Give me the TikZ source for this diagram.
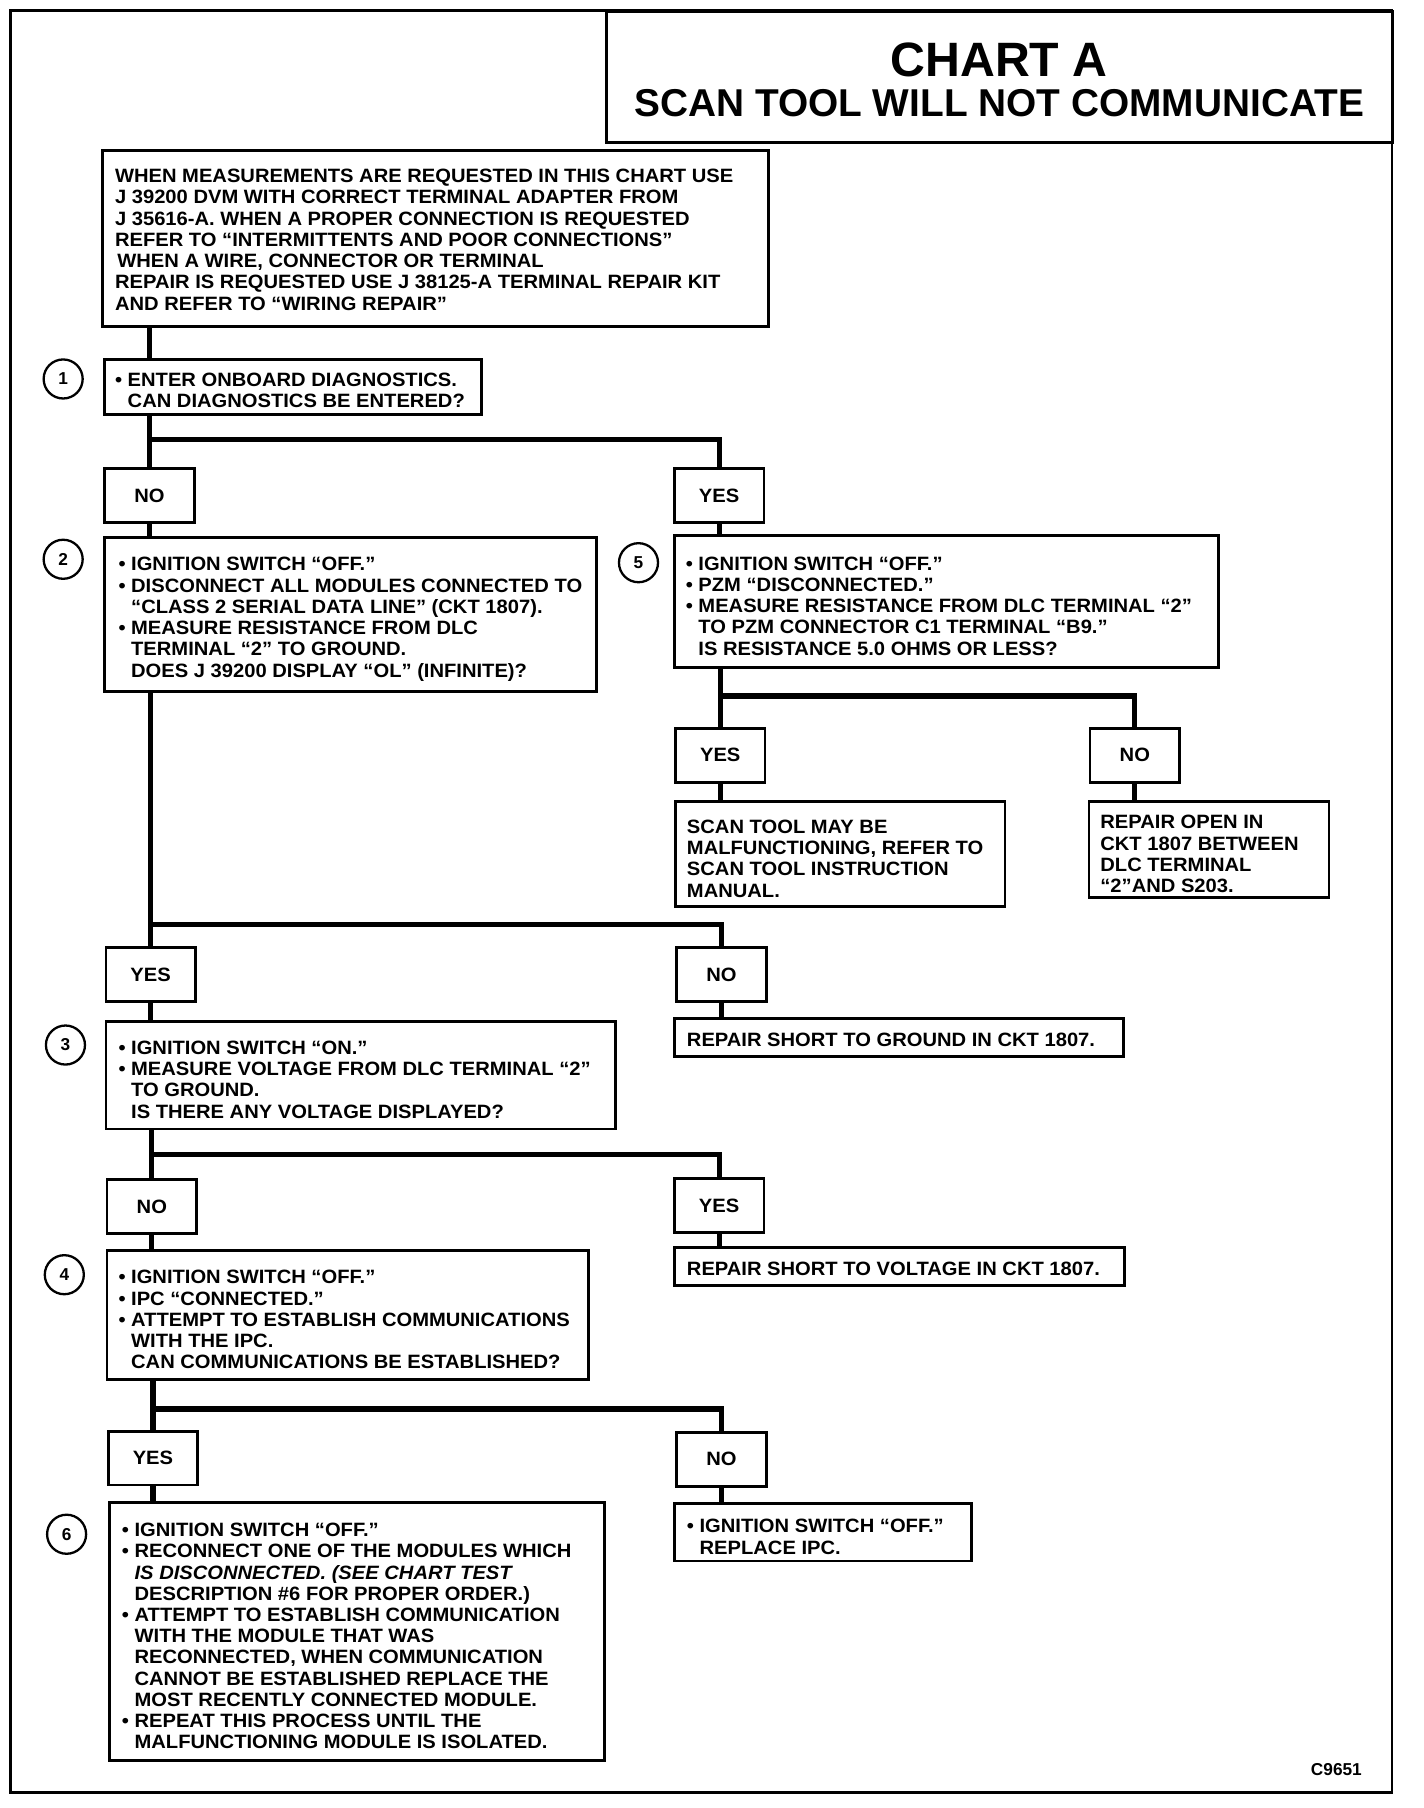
\documentclass[tikz,border=0pt]{standalone}
\usepackage{fontspec}
\setmainfont{Liberation Sans}
\newfontfamily\bodyfam{Liberation Sans}[FakeStretch=1.045]
\newcommand\bodyfont{\bodyfam\fontsize{16.8}{18.5}\selectfont\bfseries}
\newcommand\numfont{\fontsize{15}{15}\selectfont\bfseries}
\newcommand\bl{\textbullet\ }
\newcommand\ind{\hphantom{\textbullet\ }}
\begin{document}
\begin{tikzpicture}[x=1pt,y=-1pt,
  stepbox/.style={draw, line width=2.4pt, anchor=north west, inner sep=0pt},
  ansbox/.style={draw, line width=2.4pt, anchor=north west, inner sep=0pt,
     minimum width=78pt, minimum height=47pt, font=\bodyfont},
  txt/.style={anchor=west, align=left, inner sep=0pt, font=\bodyfont, yshift=-4pt},
  numc/.style={draw, circle, line width=2pt, minimum size=34pt, inner sep=0pt, font=\numfont},
  conn/.style={line width=4.5pt},
]
\useasboundingbox (0,0) rectangle (1240,1574.4);
% frame and title
\draw[line width=2.2pt] (9,9) rectangle (1212,1561);
\node[stepbox, line width=2.2pt, minimum width=685pt, minimum height=114pt] (title) at (527,9) {};
\node[font=\fontsize{42}{42}\selectfont\bfseries, inner sep=0pt] (tA) at (870,52) {CHART A};
\node[font=\fontsize{33.8}{34}\selectfont\bfseries, inner sep=0pt] (tB) at (870,90) {SCAN TOOL WILL NOT COMMUNICATE};

% intro
\node[stepbox, minimum width=580pt, minimum height=153pt] (intro) at (88,130) {};
\node[txt, yshift=3pt] (introtxt) at ([xshift=12pt]intro.west) {WHEN MEASUREMENTS ARE REQUESTED IN THIS CHART USE\\
J 39200 DVM WITH CORRECT TERMINAL ADAPTER FROM\\
J 35616-A. WHEN A PROPER CONNECTION IS REQUESTED\\
REFER TO “INTERMITTENTS AND POOR CONNECTIONS”\\
\hspace{2pt}WHEN A WIRE, CONNECTOR OR TERMINAL\\
REPAIR IS REQUESTED USE J 38125-A TERMINAL REPAIR KIT\\
AND REFER TO “WIRING REPAIR”};

% step 1
\node[numc] (c1) at (55,330) {1};
\node[stepbox, minimum width=328pt, minimum height=48pt] (b1) at (90,312) {};
\node[txt, yshift=1pt] (t1) at ([xshift=10pt]b1.west) {\bl ENTER ONBOARD DIAGNOSTICS.\\ \ind CAN DIAGNOSTICS BE ENTERED?};
\node[ansbox] (no1) at (90,407) {NO};
\node[ansbox] (yes1) at (586,407) {YES};

% step 2
\node[numc] (c2) at (55,487) {2};
\node[stepbox, minimum width=428pt, minimum height=134pt] (b2) at (90,467) {};
\node[txt] (t2) at ([xshift=13pt]b2.west) {\bl IGNITION SWITCH “OFF.”\\
\bl DISCONNECT ALL MODULES CONNECTED TO\\
\ind “CLASS 2 SERIAL DATA LINE” (CKT 1807).\\
\bl MEASURE RESISTANCE FROM DLC\\
\ind TERMINAL “2” TO GROUND.\\
\ind DOES J 39200 DISPLAY “OL” (INFINITE)?};

% step 5
\node[numc] (c5) at (556,490) {5};
\node[stepbox, minimum width=474pt, minimum height=115pt] (b5) at (586,465) {};
\node[txt] (t5) at ([xshift=11pt]b5.west) {\bl IGNITION SWITCH “OFF.”\\
\bl PZM “DISCONNECTED.”\\
\bl MEASURE RESISTANCE FROM DLC TERMINAL “2”\\
\ind TO PZM CONNECTOR C1 TERMINAL “B9.”\\
\ind IS RESISTANCE 5.0 OHMS OR LESS?};
\node[ansbox] (yes5) at (587,633) {YES};
\node[ansbox] (no5) at (948,633) {NO};
\node[stepbox, minimum width=287pt, minimum height=91pt] (scan) at (587,697) {};
\node[txt] (tscan) at ([xshift=11pt]scan.west) {SCAN TOOL MAY BE\\ MALFUNCTIONING, REFER TO\\ SCAN TOOL INSTRUCTION\\ MANUAL.};
\node[stepbox, minimum width=209pt, minimum height=83pt] (ropen) at (947,697) {};
\node[txt] (tropen) at ([xshift=11pt]ropen.west) {REPAIR OPEN IN\\ CKT 1807 BETWEEN\\ DLC TERMINAL\\ “2”AND S203.};

% answers of step 2
\node[ansbox] (yes2) at (91,824) {YES};
\node[ansbox] (no2) at (588,824) {NO};
\node[stepbox, minimum width=391pt, minimum height=33pt] (rgnd) at (586,886) {};
\node[txt, yshift=2pt] (trgnd) at ([xshift=12pt]rgnd.west) {REPAIR SHORT TO GROUND IN CKT 1807.};

% step 3
\node[numc] (c3) at (57,910) {3};
\node[stepbox, minimum width=444pt, minimum height=94pt] (b3) at (91,888) {};
\node[txt] (t3) at ([xshift=12pt]b3.west) {\bl IGNITION SWITCH “ON.”\\
\bl MEASURE VOLTAGE FROM DLC TERMINAL “2”\\
\ind TO GROUND.\\
\ind IS THERE ANY VOLTAGE DISPLAYED?};
\node[ansbox] (no3) at (92,1026) {NO};
\node[ansbox] (yes3) at (586,1025) {YES};
\node[stepbox, minimum width=392pt, minimum height=33pt] (rvolt) at (586,1085) {};
\node[txt, yshift=2pt] (trvolt) at ([xshift=12pt]rvolt.west) {REPAIR SHORT TO VOLTAGE IN CKT 1807.};

% step 4
\node[numc] (c4) at (56,1110) {4};
\node[stepbox, minimum width=419pt, minimum height=112pt] (b4) at (92,1088) {};
\node[txt] (t4) at ([xshift=11pt]b4.west) {\bl IGNITION SWITCH “OFF.”\\
\bl IPC “CONNECTED.”\\
\bl ATTEMPT TO ESTABLISH COMMUNICATIONS\\
\ind WITH THE IPC.\\
\ind CAN COMMUNICATIONS BE ESTABLISHED?};
\node[ansbox] (yes4) at (93,1245) {YES};
\node[ansbox] (no4) at (588,1246) {NO};
\node[stepbox, minimum width=259pt, minimum height=50pt] (ripc) at (586,1308) {};
\node[txt] (tripc) at ([xshift=12pt]ripc.west) {\bl IGNITION SWITCH “OFF.”\\ \ind REPLACE IPC.};

% step 6
\node[numc] (c6) at (58,1336) {6};
\node[stepbox, minimum width=431pt, minimum height=225pt] (b6) at (94,1307) {};
\node[txt] (t6) at ([xshift=12pt]b6.west) {\bl IGNITION SWITCH “OFF.”\\
\bl RECONNECT ONE OF THE MODULES WHICH\\
\ind {\itshape IS DISCONNECTED. (SEE CHART TEST}\\
\ind DESCRIPTION \#6 FOR PROPER ORDER.)\\
\bl ATTEMPT TO ESTABLISH COMMUNICATION\\
\ind WITH THE MODULE THAT WAS\\
\ind RECONNECTED, WHEN COMMUNICATION\\
\ind CANNOT BE ESTABLISHED REPLACE THE\\
\ind MOST RECENTLY CONNECTED MODULE.\\
\bl REPEAT THIS PROCESS UNTIL THE\\
\ind MALFUNCTIONING MODULE IS ISOLATED.};

\node[anchor=east, inner sep=0pt, font=\fontsize{15}{15}\selectfont\bfseries] (code) at (1186,1541) {C9651};

% split points
\coordinate (s1) at (no1 |- 0,383);
\coordinate (s5) at (yes5 |- 0,606);
\coordinate (s2) at (yes2 |- 0,805);
\coordinate (s3) at (no3 |- 0,1005);
\coordinate (s4) at (yes4 |- 0,1227);

% connectors
\draw[conn] (intro.south -| no1) -- (b1.north -| no1);
\draw[conn] (b1.south -| no1) -- (no1.north);
\draw[conn] (s1) -| (yes1.north);
\draw[conn] (no1.south) -- (b2.north -| no1);
\draw[conn] (yes1.south) -- (b5.north -| yes1);
\draw[conn] (b5.south -| yes5) -- (yes5.north);
\draw[conn] (s5) -| (no5.north);
\draw[conn] (yes5.south) -- (scan.north -| yes5);
\draw[conn] (no5.south) -- (ropen.north -| no5);
\draw[conn] (b2.south -| yes2) -- (yes2.north);
\draw[conn] (s2) -| (no2.north);
\draw[conn] (yes2.south) -- (b3.north -| yes2);
\draw[conn] (no2.south) -- (rgnd.north -| no2);
\draw[conn] (b3.south -| no3) -- (no3.north);
\draw[conn] (s3) -| (yes3.north);
\draw[conn] (no3.south) -- (b4.north -| no3);
\draw[conn] (yes3.south) -- (rvolt.north -| yes3);
\draw[conn] (b4.south -| yes4) -- (yes4.north);
\draw[conn] (s4) -| (no4.north);
\draw[conn] (yes4.south) -- (b6.north -| yes4);
\draw[conn] (no4.south) -- (ripc.north -| no4);
\end{tikzpicture}
\end{document}
